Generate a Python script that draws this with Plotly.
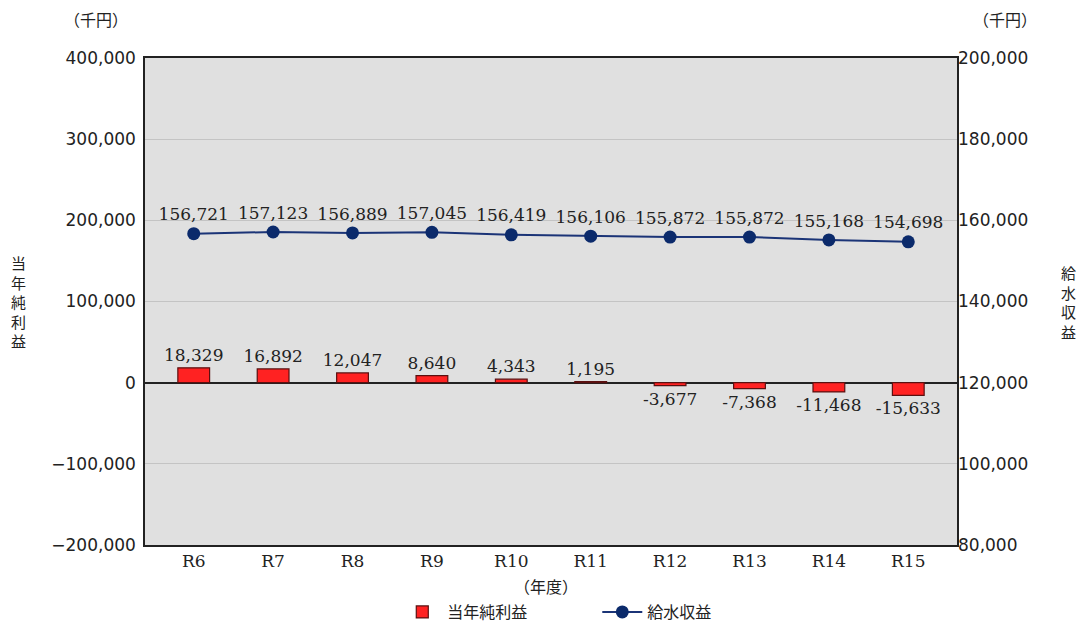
import plotly.graph_objects as go

YEARS = ["R6", "R7", "R8", "R9", "R10", "R11", "R12", "R13", "R14", "R15"]
NET_INCOME = [18329, 16892, 12047, 8640, 4343, 1195, -3677, -7368, -11468, -15633]
WATER_REVENUE = [156721, 157123, 156889, 157045, 156419, 156106, 155872, 155872, 155168, 154698]

LEFT_TICKS = [-200000, -100000, 0, 100000, 200000, 300000, 400000]
RIGHT_TICKS = [80000, 100000, 120000, 140000, 160000, 180000, 200000]
BOUNDARY_TICKS = [i + 0.5 for i in range(len(YEARS) - 1)]

SERIF = "DejaVu Serif, Liberation Serif, serif"
SANS = "DejaVu Sans, Noto Sans, sans-serif"
JP = "Noto Sans CJK JP, sans-serif"

W, H = 1069, 615
T, B = 50, 78
PLOT_H = H - T - B
UNIT_Y = 1 + (T - 11) / PLOT_H

fig = go.Figure()

fig.add_trace(go.Bar(
    x=YEARS, y=NET_INCOME, name="当年純利益",
    marker=dict(color="#ff2222", line=dict(color="#5a1010", width=1.2)),
    width=0.4,
    text=[f"{v:,}" for v in NET_INCOME], textposition="outside",
    textangle=0, constraintext="none",
    textfont=dict(family=SERIF, size=17, color="#222"),
    cliponaxis=False,
))

fig.add_trace(go.Scatter(
    x=YEARS, y=WATER_REVENUE, name="給水収益", yaxis="y2",
    mode="lines+markers+text",
    line=dict(color="#1b3477", width=2),
    marker=dict(color="#0b2a6b", size=13),
    text=[f"{v:,}" for v in WATER_REVENUE], textposition="top center",
    textfont=dict(family=SERIF, size=17, color="#222"),
    cliponaxis=False,
))

fig.update_layout(
    width=W, height=H,
    margin=dict(l=137, r=120, t=T, b=B),
    paper_bgcolor="white", plot_bgcolor="#e0e0e0",
    showlegend=True,
    legend=dict(orientation="h", x=0.557, xanchor="center",
                yref="container", y=11 / H, yanchor="middle",
                font=dict(family=JP, size=16, color="#222"), itemwidth=40,
                entrywidth=145, traceorder="normal"),
    xaxis=dict(
        type="category", showline=True, linecolor="#222", linewidth=1.5, mirror=True,
        tickfont=dict(family=SERIF, size=17, color="#222"), ticks="",
        showgrid=False,
    ),
    xaxis3=dict(
        overlaying="x", anchor="free", position=1 / 3, range=[-0.5, len(YEARS) - 0.5],
        tickmode="array", tickvals=BOUNDARY_TICKS, ticks="outside", ticklen=5,
        tickcolor="#222", showticklabels=False, showgrid=False, zeroline=False,
        showline=False,
    ),
    yaxis=dict(
        range=[-200000, 400000], tickvals=LEFT_TICKS, tickformat=",",
        showline=True, linecolor="#222", linewidth=1.5, mirror=True,
        gridcolor="#c4c4c4", gridwidth=1,
        zeroline=True, zerolinecolor="#222", zerolinewidth=1.5,
        tickfont=dict(family=SANS, size=17, color="#222"), ticks="",
        ticklabelstandoff=4,
    ),
    yaxis2=dict(
        range=[80000, 200000], tickvals=RIGHT_TICKS, tickformat=",",
        overlaying="y", side="right", showgrid=False, zeroline=False,
        tickfont=dict(family=SANS, size=17, color="#222"), ticks="",
    ),
    annotations=[
        dict(text="（千円）", x=-0.06, y=UNIT_Y, xref="paper", yref="paper",
             xanchor="center", yanchor="middle", showarrow=False,
             font=dict(family=JP, size=16, color="#222")),
        dict(text="（千円）", x=1.059, y=UNIT_Y, xref="paper", yref="paper",
             xanchor="center", yanchor="middle", showarrow=False,
             font=dict(family=JP, size=16, color="#222")),
        dict(text="<br>".join("当年純利益"), x=-0.156, y=0.5, xref="paper", yref="paper",
             xanchor="center", yanchor="middle", showarrow=False,
             font=dict(family=JP, size=15, color="#222")),
        dict(text="<br>".join("給水収益"), x=1.137, y=0.5, xref="paper", yref="paper",
             xanchor="center", yanchor="middle", showarrow=False,
             font=dict(family=JP, size=15, color="#222")),
        dict(text="（年度）", x=0.494, y=-41 / PLOT_H, xref="paper", yref="paper",
             xanchor="center", yanchor="middle", showarrow=False,
             font=dict(family=JP, size=16, color="#222")),
    ],
)

fig.write_html("out.html")
